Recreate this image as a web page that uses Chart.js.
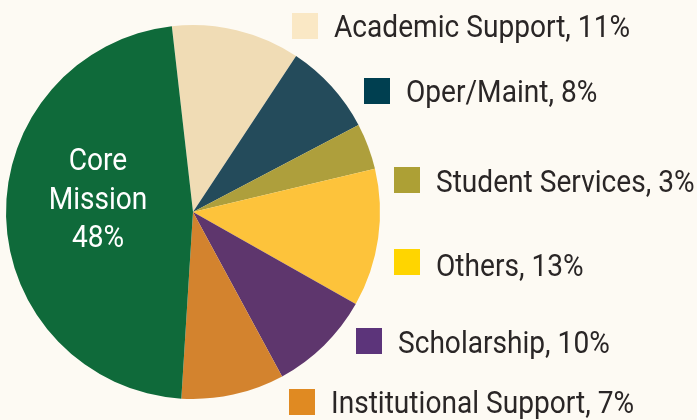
<!DOCTYPE html>
<html>
<head>
<meta charset="utf-8">
<script src="https://cdn.jsdelivr.net/npm/chart.js@4"></script>
<style>
  html, body { margin: 0; padding: 0; background: #fdfaf3; }
  canvas { display: block; }
</style>
</head>
<body>
<canvas id="pie" width="697" height="420"></canvas>
<script>
// slices, clockwise from the top
const labels = ['Academic Support', 'Oper/Maint', 'Student Services', 'Others', 'Scholarship', 'Institutional Support', 'Core Mission'];
const shares = [11.1, 8.0, 4.0, 11.9, 8.9, 8.9, 47.2];       // as drawn
const printed = ['11%', '8%', '3%', '13%', '10%', '7%', '48%']; // as labelled
const sliceColors = ['#f0dcb5', '#244b5b', '#ae9f3c', '#fdc33b', '#5e366d', '#d3832e', '#0f6a3a'];
const swatchColors = ['#fae8c5', '#003f50', '#ada035', '#ffd500', '#5c347a', '#e08a22'];

// legend rows: swatch left, swatch top, text baseline
const legendPos = [[292, 13, 37], [364, 78, 102], [394, 167, 192], [394, 249, 276], [356, 328, 353], [289, 389, 413]];

const FONT = '400 32px Roboto';
const SQUEEZE = 0.878;

function squeezedText(ctx, txt, x, y, align) {
  ctx.save();
  ctx.translate(x, y);
  ctx.scale(SQUEEZE, 1);
  ctx.textAlign = align;
  ctx.fillText(txt, 0, 0);
  ctx.restore();
}

const labelsPlugin = {
  id: 'labelsPlugin',
  afterDraw(chart) {
    const ctx = chart.ctx;
    ctx.save();
    ctx.font = FONT;
    ctx.textBaseline = 'alphabetic';
    legendPos.forEach(function(p, i) {
      ctx.fillStyle = swatchColors[i];
      ctx.fillRect(p[0], p[1], 26, 26);
      ctx.fillStyle = '#2a2626';
      squeezedText(ctx, labels[i] + ', ' + printed[i], p[0] + 42, p[2], 'left');
    });
    ctx.fillStyle = '#ffffff';
    ['Core', 'Mission', printed[6]].forEach(function(t, i) {
      squeezedText(ctx, t, 98, 170 + i * 38.5, 'center');
    });
    ctx.restore();
  }
};

new Chart(document.getElementById('pie'), {
  type: 'pie',
  data: { labels: labels, datasets: [{ data: shares, backgroundColor: sliceColors, borderWidth: 0 }] },
  options: {
    responsive: false, animation: false,
    rotation: -6.5,
    layout: { padding: { left: 6, top: 25, right: 317, bottom: 21 } },
    plugins: { legend: { display: false }, tooltip: { enabled: false } }
  },
  plugins: [labelsPlugin]
});
</script>
</body>
</html>
